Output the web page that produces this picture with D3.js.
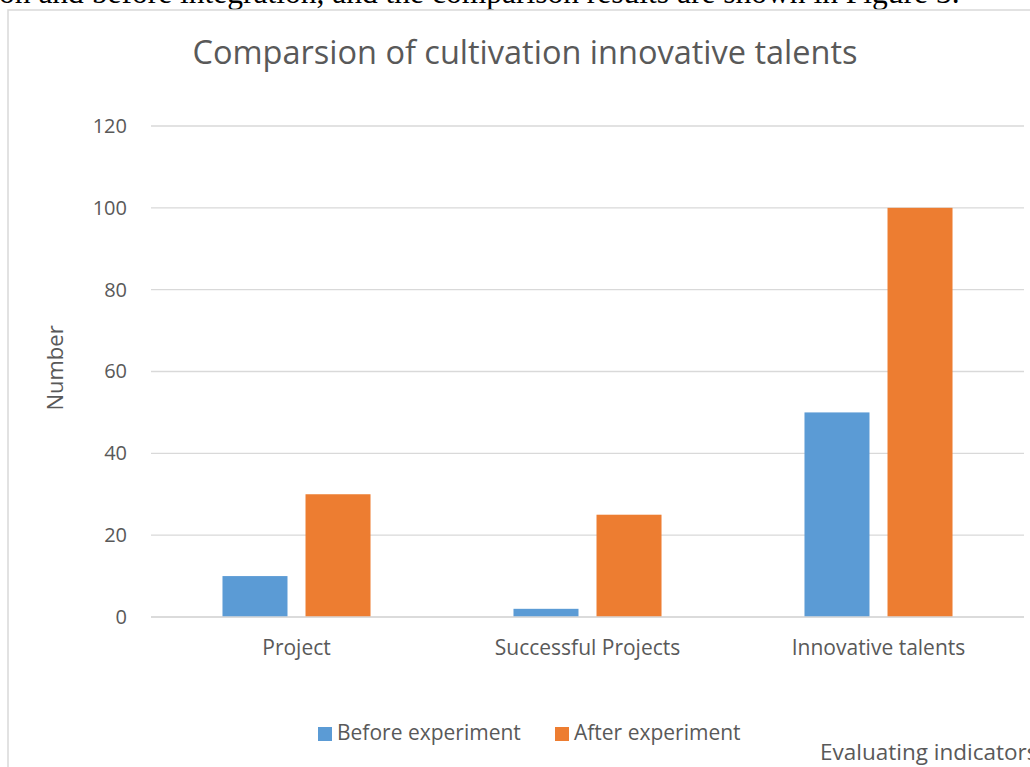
<!DOCTYPE html>
<html>
<head>
<meta charset="utf-8">
<script src="https://cdn.jsdelivr.net/npm/d3@7"></script>
<style>
  html, body { margin: 0; padding: 0; background: #fff; overflow: hidden; }
  svg { display: block; }
</style>
</head>
<body>
<svg id="chart" width="1030" height="767"></svg>
<script>
// Chart data
const categories = ["Project", "Successful Projects", "Innovative talents"];
const seriesNames = ["Before experiment", "After experiment"];
const beforeValues = [10, 2, 50];
const afterValues = [30, 25, 100];
const yTicks = [0, 20, 40, 60, 80, 100, 120];

const colors = ["#5B9BD5", "#ED7D31"];
const textColor = "#595959";
const gridColor = "#d9d9d9";
const font = "'Open Sans', 'Noto Sans', sans-serif";

const svg = d3.select("#chart");

// Body text line running above the figure
svg.append("text")
  .attr("x", -1).attr("y", 3)
  .attr("font-family", "'Liberation Serif', 'DejaVu Serif', serif")
  .attr("font-size", 31.5)
  .attr("fill", "#000")
  .text("on and before integration, and the comparison results are shown in Figure 3.");

// Chart frame (extends past the right/bottom edges)
svg.append("rect")
  .attr("x", 8).attr("y", 10)
  .attr("width", 1100).attr("height", 800)
  .attr("fill", "none")
  .attr("stroke", gridColor)
  .attr("stroke-width", 1.5);

const plot = { left: 151, right: 1024, top: 126, bottom: 617 };

const y = d3.scaleLinear().domain([0, 120]).range([plot.bottom, plot.top]);
const x0 = d3.scaleBand().domain(categories).range([plot.left, plot.right]).padding(0);
const x1 = d3.scaleBand().domain(seriesNames).range([0, x0.bandwidth()])
  .paddingInner(0.217).paddingOuter(0.861);

// Gridlines
svg.append("g")
  .selectAll("line")
  .data(yTicks)
  .join("line")
  .attr("x1", plot.left).attr("x2", plot.right)
  .attr("y1", d => y(d)).attr("y2", d => y(d))
  .attr("stroke", gridColor)
  .attr("stroke-width", 1.3);

// Y axis labels
const yAxis = d3.axisLeft(y).tickValues(yTicks).tickSize(0).tickPadding(0);
const yg = svg.append("g").attr("transform", "translate(127,0)").call(yAxis);
yg.select(".domain").remove();
yg.selectAll("text")
  .attr("font-family", font).attr("font-size", 20)
  .attr("fill", textColor);

// Bars
const rows = categories.map((c, i) => ({ category: c, values: [beforeValues[i], afterValues[i]] }));
const groups = svg.append("g")
  .selectAll("g")
  .data(rows)
  .join("g")
  .attr("transform", d => `translate(${x0(d.category)},0)`);
groups.selectAll("rect")
  .data(d => d.values.map((v, j) => ({ series: seriesNames[j], value: v, j })))
  .join("rect")
  .attr("x", d => x1(d.series))
  .attr("width", x1.bandwidth())
  .attr("y", d => y(d.value))
  .attr("height", d => y(0) - y(d.value))
  .attr("fill", d => colors[d.j]);

// X axis line on top of bars
svg.append("line")
  .attr("x1", plot.left).attr("x2", plot.right)
  .attr("y1", y(0)).attr("y2", y(0))
  .attr("stroke", gridColor).attr("stroke-width", 1.5);

// Category labels
const xAxis = d3.axisBottom(x0).tickSize(0).tickPadding(0);
const xg = svg.append("g").attr("transform", `translate(0,${plot.bottom})`).call(xAxis);
xg.select(".domain").remove();
xg.selectAll("text")
  .attr("dy", null)
  .attr("y", 38)
  .attr("font-family", font).attr("font-size", 21)
  .attr("fill", textColor);

// Title
svg.append("text")
  .attr("x", 525).attr("y", 64)
  .attr("text-anchor", "middle")
  .attr("font-family", font).attr("font-size", 32.5)
  .attr("fill", textColor)
  .text("Comparsion of cultivation innovative talents");

// Y axis title
svg.append("text")
  .attr("transform", "translate(63,368) rotate(-90)")
  .attr("text-anchor", "middle")
  .attr("font-family", font).attr("font-size", 22)
  .attr("fill", textColor)
  .text("Number");

// X axis title (runs off the right edge)
svg.append("text")
  .attr("x", 820).attr("y", 760)
  .attr("font-family", font).attr("font-size", 22.5)
  .attr("fill", textColor)
  .text("Evaluating indicators");

// Legend
const legendX = [318, 555];
const legend = svg.append("g")
  .selectAll("g")
  .data(seriesNames)
  .join("g")
  .attr("transform", (d, i) => `translate(${legendX[i]},727)`);
legend.append("rect")
  .attr("width", 14).attr("height", 14)
  .attr("fill", (d, i) => colors[i]);
legend.append("text")
  .attr("x", 19).attr("y", 13)
  .attr("font-family", font).attr("font-size", 21)
  .attr("fill", textColor)
  .text(d => d);
</script>
</body>
</html>
